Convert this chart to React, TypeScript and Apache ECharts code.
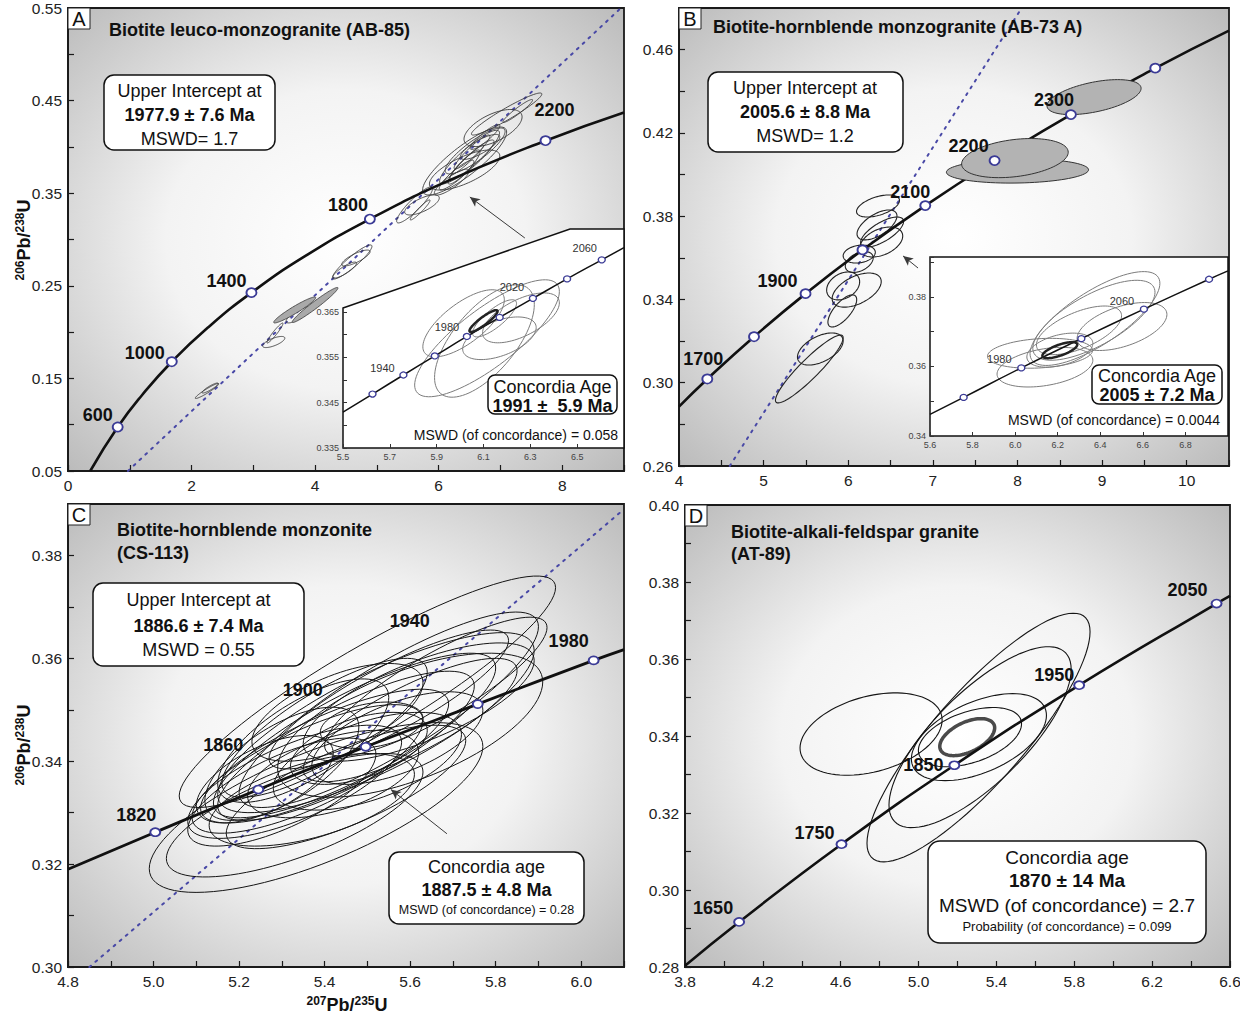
import React, { useEffect, useRef } from "react";
import * as echarts from "echarts";

const FONT = "'Liberation Sans', Arial, Helvetica, sans-serif";

// ---------------- Panel A : Biotite leuco-monzogranite (AB-85) ----------------
const aConcordia = [[0.36, 0.05], [0.805, 0.0975], [1.2, 0.1321], [1.68, 0.168], [2.26, 0.2046], [2.97, 0.2426], [3.83, 0.2817], [4.887, 0.3221], [6.169, 0.3638], [7.73, 0.4067], [9.0, 0.4372]];
const aAges = ["600", "1000", "1400", "1800", "2200"];
const aAgePoints = [[0.805, 0.0975], [1.68, 0.168], [2.97, 0.2426], [4.887, 0.3221], [7.73, 0.4067]];
const aDiscordia = [[0.97, 0.05], [8.95, 0.55]];
// ellipse = [x centre, y centre, x half-extent, y half-extent, correlation]
const aEllipses = [
  [7.1, 0.4355, 0.57, 0.0227, 0.95], [6.88, 0.4204, 0.47, 0.02, 0.6], [7.28, 0.4388, 0.24, 0.0124, 0.95],
  [6.42, 0.3848, 0.68, 0.0367, 0.85], [6.5, 0.389, 0.485, 0.029, 0.9], [6.59, 0.3956, 0.485, 0.0248, 0.85],
  [6.54, 0.3859, 0.356, 0.0216, 0.92], [6.54, 0.3945, 0.29, 0.0184, 0.93], [6.41, 0.3783, 0.26, 0.0184, 0.9],
  [6.29, 0.3697, 0.28, 0.016, 0.9], [6.42, 0.375, 0.57, 0.0216, 0.7], [6.67, 0.4, 0.32, 0.0135, 0.8],
  [6.21, 0.362, 0.28, 0.014, 0.85], [6.47, 0.386, 0.26, 0.016, 0.97], [6.75, 0.4107, 0.24, 0.0135, 0.9],
  [5.61, 0.3373, 0.29, 0.0194, 0.9], [5.73, 0.3373, 0.28, 0.0108, 0.7], [5.7, 0.3319, 0.16, 0.0108, 0.95],
  [4.6, 0.2757, 0.32, 0.0184, 0.92], [4.66, 0.28, 0.23, 0.0086, 0.8], [4.48, 0.267, 0.19, 0.0086, 0.85],
  [3.72, 0.2185, 0.19, 0.0086, 0.8], [3.35, 0.199, 0.13, 0.0108, 0.95], [3.33, 0.1893, 0.18, 0.006, 0.7],
  [2.25, 0.1364, 0.19, 0.0081, 0.95], [2.3, 0.1396, 0.13, 0.0054, 0.9],
];
const aGreyEllipses = [[3.67, 0.2239, 0.34, 0.014, 0.95], [4.0, 0.2293, 0.37, 0.0189, 0.97]];
const aArrow = [[7.395, 0.3016], [6.505, 0.3459]];

// inset of panel A
const aInsetConcordia = [[5.5, 0.3429], [5.626, 0.3469], [5.758, 0.3511], [5.892, 0.3553], [6.029, 0.3596], [6.169, 0.3638], [6.311, 0.368], [6.457, 0.3723], [6.605, 0.3765], [6.7, 0.3792]];
const aInsetAges = ["1920", "1940", "1960", "1980", "2000", "2020", "2040", "2060"];
const aInsetAgePoints = [[5.626, 0.3469], [5.758, 0.3511], [5.892, 0.3553], [6.029, 0.3596], [6.169, 0.3638], [6.311, 0.368], [6.457, 0.3723], [6.605, 0.3765]];
const aInsetEllipses = [
  [6.115, 0.3592, 0.309, 0.0129, 0.8], [6.104, 0.3586, 0.213, 0.0124, 0.65], [6.015, 0.3625, 0.174, 0.0074, 0.7],
  [6.168, 0.3592, 0.157, 0.0047, 0.5], [6.26, 0.3637, 0.164, 0.0055, 0.6], [6.147, 0.3636, 0.094, 0.0041, 0.8],
];
const aInsetBest = [[6.1, 0.363, 0.06, 0.0024, 0.9]];

// ---------------- Panel B : Biotite-hornblende monzogranite (AB-73 A) ----------------
const bConcordia = [[4.0, 0.2885], [4.335, 0.3018], [4.887, 0.3221], [5.496, 0.3428], [6.169, 0.3638], [6.911, 0.3851], [7.73, 0.4067], [8.632, 0.4288], [9.629, 0.4511], [10.5, 0.4691]];
const bAges = ["1700", "1800", "1900", "2000", "2100", "2200", "2300", "2400"];
const bAgePoints = [[4.335, 0.3018], [4.887, 0.3221], [5.496, 0.3428], [6.169, 0.3638], [6.911, 0.3851], [7.73, 0.4067], [8.632, 0.4288], [9.629, 0.4511]];
const bDiscordia = [[4.6, 0.26], [8.05, 0.48]];
const bEllipses = [
  [6.352, 0.3849, 0.254, 0.0053, 0.5], [6.34, 0.3758, 0.236, 0.0072, 0.6], [6.4, 0.3724, 0.254, 0.0072, 0.7],
  [6.39, 0.3676, 0.254, 0.0072, 0.4], [6.13, 0.3618, 0.19, 0.0043, 0.2], [6.13, 0.358, 0.165, 0.005, 0.4],
  [5.94, 0.3465, 0.195, 0.0067, 0.3], [6.1, 0.3445, 0.29, 0.0082, 0.5], [5.93, 0.3345, 0.17, 0.0077, 0.7],
  [5.67, 0.3162, 0.27, 0.0077, 0.5], [5.54, 0.3066, 0.4, 0.0163, 0.92],
];
const bGreyEllipses = [[8.0, 0.4017, 0.84, 0.0058, 0.1], [7.97, 0.4079, 0.63, 0.0094, 0.3], [8.905, 0.4372, 0.556, 0.0084, 0.5]];
const bArrow = [[6.825, 0.3551], [6.648, 0.3609]];

// inset of panel B
const bInsetConcordia = [[5.6, 0.3462], [5.758, 0.3511], [6.029, 0.3596], [6.311, 0.368], [6.605, 0.3765], [6.911, 0.3851], [7.0, 0.3875]];
const bInsetAges = ["1940", "1980", "2020", "2060", "2100"];
const bInsetAgePoints = [[5.758, 0.3511], [6.029, 0.3596], [6.311, 0.368], [6.605, 0.3765], [6.911, 0.3851]];
const bInsetEllipses = [
  [6.375, 0.3738, 0.305, 0.0135, 0.75], [6.37, 0.3733, 0.287, 0.0115, 0.7], [6.502, 0.3715, 0.211, 0.0069, 0.5],
  [6.117, 0.3638, 0.247, 0.0043, 0.2], [6.14, 0.3598, 0.225, 0.0057, 0.35], [6.21, 0.3647, 0.155, 0.0049, 0.4],
  [6.3, 0.3704, 0.2, 0.007, 0.6],
];
const bInsetBest = [[6.21, 0.3647, 0.082, 0.0023, 0.7]];

// ---------------- Panel C : Biotite-hornblende monzonite (CS-113) ----------------
const cConcordia = [[4.8, 0.319], [5.004, 0.3262], [5.245, 0.3345], [5.496, 0.3428], [5.758, 0.3511], [6.029, 0.3596], [6.1, 0.3617]];
const cAges = ["1820", "1860", "1900", "1940", "1980"];
const cAgePoints = [[5.004, 0.3262], [5.245, 0.3345], [5.496, 0.3428], [5.758, 0.3511], [6.029, 0.3596]];
const cDiscordia = [[4.85, 0.3], [6.1, 0.389]];
const cEllipses = [
  [5.38, 0.331, 0.39, 0.0165, 0.72], [5.5, 0.3535, 0.44, 0.0225, 0.9], [5.55, 0.35, 0.35, 0.019, 0.85],
  [5.52, 0.3475, 0.37, 0.0175, 0.8], [5.47, 0.345, 0.33, 0.016, 0.82], [5.45, 0.343, 0.3, 0.0145, 0.8],
  [5.4, 0.341, 0.29, 0.013, 0.78], [5.36, 0.3385, 0.27, 0.0125, 0.75], [5.33, 0.336, 0.25, 0.011, 0.7],
  [5.3, 0.334, 0.22, 0.0105, 0.7], [5.42, 0.3375, 0.2, 0.0085, 0.5], [5.51, 0.347, 0.12, 0.0045, 0.3],
  [5.6, 0.348, 0.25, 0.012, 0.8], [5.55, 0.352, 0.28, 0.0135, 0.85], [5.35, 0.344, 0.2, 0.012, 0.7],
  [5.3, 0.3395, 0.18, 0.011, 0.65], [5.6, 0.347, 0.31, 0.014, 0.6], [5.45, 0.335, 0.28, 0.012, 0.75],
  [5.4, 0.3465, 0.24, 0.0135, 0.8], [5.62, 0.3515, 0.27, 0.0115, 0.7], [5.26, 0.3365, 0.16, 0.0085, 0.6],
  [5.5, 0.34, 0.22, 0.0095, 0.55], [5.43, 0.3495, 0.2, 0.0095, 0.6], [5.37, 0.3325, 0.24, 0.009, 0.55],
  [5.66, 0.3545, 0.26, 0.0135, 0.85], [5.33, 0.3295, 0.3, 0.012, 0.7], [5.48, 0.3425, 0.16, 0.007, 0.5],
  [5.57, 0.3445, 0.2, 0.009, 0.6],
];
const cArrow = [[5.686, 0.3259], [5.555, 0.3345]];

// ---------------- Panel D : Biotite-alkali-feldspar granite (AT-89) ----------------
const dConcordia = [[3.8, 0.2803], [4.078, 0.2917], [4.604, 0.3119], [5.184, 0.3324], [5.825, 0.3532], [6.531, 0.3744], [6.6, 0.3764]];
const dAges = ["1650", "1750", "1850", "1950", "2050"];
const dAgePoints = [[4.078, 0.2917], [4.604, 0.3119], [5.184, 0.3324], [5.825, 0.3532], [6.531, 0.3744]];
const dEllipses = [
  [4.756, 0.3405, 0.365, 0.0107, 0.34], [5.308, 0.3396, 0.573, 0.0323, 0.85], [5.316, 0.3397, 0.468, 0.0235, 0.75],
  [5.31, 0.3397, 0.347, 0.0113, 0.5], [5.264, 0.3397, 0.265, 0.0077, 0.45],
];
const dBest = [[5.25, 0.3397, 0.141, 0.0048, 0.5]];

// ------------------------------------------------------------------------------------
function gradient() {
  return new echarts.graphic.RadialGradient(0.5, 0.5, 0.72, [
    { offset: 0, color: "#ffffff" },
    { offset: 0.45, color: "#f3f3f3" },
    { offset: 1, color: "#b9b9b9" },
  ]);
}

function mainAxis(gridIndex: number, min: number, max: number, interval: number, dec: number, showMax: boolean) {
  return {
    type: "value", gridIndex, min, max, interval,
    axisLine: { show: true, onZero: false, lineStyle: { color: "#1a1a1a", width: 1.8 } },
    axisTick: { show: true, inside: true, length: 6, lineStyle: { color: "#1a1a1a", width: 1.2 } },
    minorTick: { show: true, splitNumber: 2, length: 6, lineStyle: { color: "#1a1a1a", width: 1.2 } },
    splitLine: { show: false },
    minorSplitLine: { show: false },
    axisLabel: {
      show: true, fontSize: 15.5, color: "#222", fontFamily: FONT, margin: 6,
      showMaxLabel: showMax, showMinLabel: true,
      formatter: (v: number) => v.toFixed(dec),
    },
  };
}

function insetAxis(gridIndex: number, min: number, max: number, interval: number, dec: number, extra: any) {
  return {
    type: "value", gridIndex, min, max, interval, z: 11,
    axisLine: { show: false, onZero: false },
    axisTick: { show: true, inside: true, length: 4, lineStyle: { color: "#333", width: 1 } },
    minorTick: { show: false },
    splitLine: { show: false },
    axisLabel: {
      show: true, fontSize: 9, color: "#444", fontFamily: FONT, margin: 4, showMaxLabel: false,
      formatter: (v: number) => v.toFixed(dec),
    },
    ...extra,
  };
}

function ellipseSeries(idx: number, data: number[][], style: any, z: number) {
  return {
    type: "custom", xAxisIndex: idx, yAxisIndex: idx, coordinateSystem: "cartesian2d",
    data, encode: { x: 0, y: 1 }, z, silent: true, clip: true,
    renderItem: (_p: any, api: any) => {
      const cx = api.value(0), cy = api.value(1), hx = api.value(2), hy = api.value(3), r = api.value(4);
      const s = Math.sqrt(Math.max(0, 1 - r * r));
      const pts: number[][] = [];
      const n = 90;
      for (let i = 0; i < n; i++) {
        const t = (i / n) * Math.PI * 2;
        pts.push(api.coord([cx + hx * Math.cos(t), cy + hy * (r * Math.cos(t) + s * Math.sin(t))]));
      }
      return { type: "polygon", shape: { points: pts }, style: { ...style } };
    },
  };
}

function concordiaSeries(idx: number, pts: number[][], width: number, arrow: number[][] | null) {
  const s: any = {
    type: "line", xAxisIndex: idx, yAxisIndex: idx, data: pts, smooth: 0.5,
    showSymbol: false, symbol: "none", z: 4, silent: true,
    lineStyle: { color: "#111", width },
  };
  if (arrow) {
    s.markLine = {
      silent: true, symbol: ["none", "arrow"], symbolSize: [7, 10], animation: false,
      lineStyle: { color: "#3a3a3a", width: 1, type: "solid" }, label: { show: false },
      data: [[{ coord: arrow[0] }, { coord: arrow[1] }]],
    };
  }
  return s;
}

function discordiaSeries(idx: number, pts: number[][]) {
  return {
    type: "line", xAxisIndex: idx, yAxisIndex: idx, data: pts, showSymbol: false, symbol: "none", z: 2, silent: true,
    lineStyle: { color: "#4848a6", width: 2, type: [2, 6], cap: "round" },
  };
}

function markerSeries(idx: number, ages: string[], pts: number[][], offsets: (number[] | null)[], size: number[], labelStyle: any) {
  return {
    type: "scatter", xAxisIndex: idx, yAxisIndex: idx, z: 6, silent: true,
    symbol: "circle", symbolSize: size,
    itemStyle: { color: "#ffffff", borderColor: "#3b3b96", borderWidth: size[0] > 8 ? 1.8 : 1.3, opacity: 1 },
    data: pts.map((p, i) => ({
      name: ages[i], value: p,
      label: offsets[i] ? { show: true, offset: offsets[i] } : { show: false },
    })),
    label: { show: true, position: "inside", formatter: "{b}", fontFamily: FONT, ...labelStyle },
  };
}

function txt(text: string, x: number, y: number, size: number, bold: boolean, align = "center", z = 21) {
  return {
    type: "text", z, silent: true,
    style: {
      text, x, y, fill: "#111",
      font: `${bold ? "bold " : ""}${size}px ${FONT}`,
      align, verticalAlign: "middle", textAlign: align, textVerticalAlign: "middle",
    },
  };
}

function box(x: number, y: number, w: number, h: number, r: number, z = 20) {
  return { type: "rect", z, silent: true, shape: { x, y, width: w, height: h, r }, style: { fill: "#fff", stroke: "#111", lineWidth: 1.5 } };
}

function letter(l: string, x: number, y: number) {
  return [
    { type: "rect", z: 20, silent: true, shape: { x, y, width: 22, height: 21 }, style: { fill: "#fff", stroke: "#222", lineWidth: 1 } },
    txt(l, x + 11, y + 11, 20, false),
  ];
}

function ratioTitle(top: string, bottom: string, x: number, y: number, rotate: boolean) {
  return {
    type: "text", z: 21, silent: true, x, y, rotation: rotate ? Math.PI / 2 : 0,
    style: {
      text: `{s|${top}}{b|Pb/}{s|${bottom}}{b|U}`,
      x: 0, y: 0, align: "center", verticalAlign: "middle", textAlign: "center", textVerticalAlign: "middle", fill: "#111",
      rich: {
        b: { fontSize: 18, fontWeight: "bold", fontFamily: FONT, fill: "#111", color: "#111" },
        s: { fontSize: 12, fontWeight: "bold", fontFamily: FONT, fill: "#111", color: "#111", padding: [0, 0, 9, 0] },
      },
    },
  };
}

function buildOption() {
  const mainGrid = (left: number, top: number, width: number, height: number) => ({
    left, top, width, height, show: true, backgroundColor: gradient(), borderColor: "#1a1a1a", borderWidth: 1.8,
    containLabel: false, outerBoundsMode: "none",
  });
  const bigLabel = { fontSize: 18, fontWeight: "bold", color: "#111" };
  const smallLabel = { fontSize: 11, fontWeight: "normal", color: "#333" };
  const insetStroke = { fill: "none", stroke: "#7c7c7c", lineWidth: 1 };
  const insetBestStroke = { fill: "none", stroke: "#222", lineWidth: 2.5 };

  return {
    animation: false,
    backgroundColor: "#ffffff",
    grid: [
      mainGrid(68, 8, 556, 463),
      mainGrid(679, 8, 550, 458),
      mainGrid(68, 504, 556, 463),
      mainGrid(685, 505, 545, 462),
      { left: 343, top: 229, width: 281, height: 219, show: false, outerBoundsMode: "none" },
      { left: 930, top: 257, width: 298, height: 179, show: false, outerBoundsMode: "none" },
    ],
    xAxis: [
      mainAxis(0, 0, 9, 2, 0, false),
      mainAxis(1, 4, 10.5, 1, 0, false),
      mainAxis(2, 4.8, 6.1, 0.2, 1, false),
      mainAxis(3, 3.8, 6.6, 0.4, 1, true),
      insetAxis(4, 5.5, 6.7, 0.2, 1, {}),
      insetAxis(5, 5.6, 7.0, 0.2, 1, {}),
    ],
    yAxis: [
      mainAxis(0, 0.05, 0.55, 0.1, 2, true),
      mainAxis(1, 0.26, 0.48, 0.04, 2, false),
      mainAxis(2, 0.3, 0.39, 0.02, 2, false),
      mainAxis(3, 0.28, 0.4, 0.02, 2, true),
      insetAxis(4, 0.335, 0.3833, 0.01, 3, {
        axisTick: { show: true, inside: true, length: 4, lineStyle: { color: "#333", width: 1 }, customValues: [0.335, 0.34, 0.345, 0.35, 0.355, 0.36, 0.365] },
        axisLabel: {
          show: true, fontSize: 9, color: "#444", fontFamily: FONT, margin: 4, showMaxLabel: true, showMinLabel: true,
          customValues: [0.335, 0.345, 0.355, 0.365],
          formatter: (v: number) => (v > 0.37 ? "" : v.toFixed(3)),
        },
      }),
      insetAxis(5, 0.34, 0.3915, 0.02, 2, {
        minorTick: { show: true, splitNumber: 2, length: 4, lineStyle: { color: "#333", width: 1 } },
      }),
    ],
    series: [
      // A
      discordiaSeries(0, aDiscordia),
      ellipseSeries(0, aEllipses, { fill: "none", stroke: "#3a3a3a", lineWidth: 0.9 }, 3),
      ellipseSeries(0, aGreyEllipses, { fill: "#a9a9a9", stroke: "#444", lineWidth: 0.9 }, 3),
      concordiaSeries(0, aConcordia, 2.6, aArrow),
      markerSeries(0, aAges, aAgePoints, [[-20, -12], [-27, -9], [-25, -12], [-22, -14], [9, -31]], [10, 9], bigLabel),
      // B
      discordiaSeries(1, bDiscordia),
      ellipseSeries(1, bEllipses, { fill: "none", stroke: "#222", lineWidth: 1.1 }, 3),
      ellipseSeries(1, bGreyEllipses, { fill: "#b3b3b3", stroke: "#333", lineWidth: 1 }, 5),
      concordiaSeries(1, bConcordia, 2.6, bArrow),
      markerSeries(1, bAges, bAgePoints, [[-4, -20], null, [-28, -13], null, [-15, -14], [-26, -15], [-17, -15], null], [10, 9], bigLabel),
      // C
      discordiaSeries(2, cDiscordia),
      ellipseSeries(2, cEllipses, { fill: "none", stroke: "#151515", lineWidth: 1 }, 3),
      concordiaSeries(2, cConcordia, 2.8, cArrow),
      markerSeries(2, cAges, cAgePoints, [[-19, -17], [-35, -45], [-63, -57], [-68, -83], [-25, -19]], [10, 8], bigLabel),
      // D
      ellipseSeries(3, dEllipses, { fill: "none", stroke: "#151515", lineWidth: 1.1 }, 3),
      ellipseSeries(3, dBest, { fill: "none", stroke: "#4a4a4a", lineWidth: 3.5 }, 3),
      concordiaSeries(3, dConcordia, 2.6, null),
      markerSeries(3, dAges, dAgePoints, [[-26, -14], [-27, -11], [-31, 0], [-25, -10], [-29, -14]], [10, 8], bigLabel),
      // A inset
      { ...concordiaSeries(4, aInsetConcordia, 1.5, null), z: 12 },
      { ...ellipseSeries(4, aInsetEllipses, insetStroke, 12) },
      { ...ellipseSeries(4, aInsetBest, insetBestStroke, 13) },
      { ...markerSeries(4, aInsetAges, aInsetAgePoints, [null, [-21, -7], null, [-20, -9], null, [-21, -11], null, [-17, -12]], [7, 6], smallLabel), z: 14 },
      // B inset
      { ...concordiaSeries(5, bInsetConcordia, 1.5, null), z: 12 },
      { ...ellipseSeries(5, bInsetEllipses, insetStroke, 12) },
      { ...ellipseSeries(5, bInsetBest, insetBestStroke, 13) },
      { ...markerSeries(5, bInsetAges, bInsetAgePoints, [null, [-22, -9], null, [-22, -8], null], [7, 6], smallLabel), z: 14 },
    ],
    graphic: [
      // inset frames
      { type: "polygon", z: 10, silent: true, shape: { points: [[343, 308], [570, 229], [624, 229], [624, 448], [343, 448]] }, style: { fill: "#fff", stroke: "#111", lineWidth: 1.5 } },
      { type: "rect", z: 10, silent: true, shape: { x: 930, y: 257, width: 298, height: 179 }, style: { fill: "#fff", stroke: "#111", lineWidth: 1.5 } },
      // panel letters
      ...letter("A", 68, 8), ...letter("B", 679, 8), ...letter("C", 68, 504), ...letter("D", 685, 505),
      // titles
      txt("Biotite leuco-monzogranite (AB-85)", 109, 30, 18, true, "left"),
      txt("Biotite-hornblende monzogranite (AB-73 A)", 713, 27, 18, true, "left"),
      txt("Biotite-hornblende monzonite", 117, 530, 18, true, "left"),
      txt("(CS-113)", 117, 553, 18, true, "left"),
      txt("Biotite-alkali-feldspar granite", 731, 532, 18, true, "left"),
      txt("(AT-89)", 731, 554, 18, true, "left"),
      // A box
      box(104, 75, 171, 75, 10),
      txt("Upper Intercept at", 189.5, 91, 18, false),
      txt("1977.9 ± 7.6 Ma", 189.5, 115, 18, true),
      txt("MSWD= 1.7", 189.5, 139, 18, false),
      // B box
      box(708, 72, 195, 80, 10),
      txt("Upper Intercept at", 805, 88, 18, false),
      txt("2005.6 ± 8.8 Ma", 805, 112, 18, true),
      txt("MSWD= 1.2", 805, 136, 18, false),
      // C boxes
      box(93, 583, 211, 83, 10),
      txt("Upper Intercept at", 198.5, 600, 18, false),
      txt("1886.6 ± 7.4 Ma", 198.5, 626, 18, true),
      txt("MSWD = 0.55", 198.5, 650, 18, false),
      box(389, 852, 195, 72, 10),
      txt("Concordia age", 486.5, 867, 18, false),
      txt("1887.5 ± 4.8 Ma", 486.5, 890, 18, true),
      txt("MSWD (of concordance) = 0.28", 486.5, 910, 12.5, false),
      // D box
      box(928, 841, 278, 102, 12),
      txt("Concordia age", 1067, 857, 19, false),
      txt("1870 ± 14 Ma", 1067, 880, 19, true),
      txt("MSWD (of concordance) = 2.7", 1067, 905, 19, false),
      txt("Probability (of concordance) = 0.099", 1067, 926, 13, false),
      // A inset box
      box(488, 375, 129, 39, 7, 22),
      txt("Concordia Age", 552.5, 387, 18, false, "center", 23),
      txt("1991 ±  5.9 Ma", 552.5, 406, 18, true, "center", 23),
      txt("MSWD (of concordance) = 0.058", 618, 435, 14, false, "right", 23),
      // B inset box
      box(1092, 365, 130, 39, 7, 22),
      txt("Concordia Age", 1157, 376, 18, false, "center", 23),
      txt("2005 ± 7.2 Ma", 1157, 395, 18, true, "center", 23),
      txt("MSWD (of concordance) = 0.0044", 1220, 420, 14, false, "right", 23),
      // axis titles
      ratioTitle("206", "238", 24, 240, true),
      ratioTitle("206", "238", 24, 745, true),
      ratioTitle("207", "235", 347, 1005, false),
    ],
  };
}

export default function App() {
  const ref = useRef<HTMLDivElement>(null);
  useEffect(() => {
    const chart = echarts.init(ref.current as HTMLDivElement, null, { renderer: "svg" });
    chart.setOption(buildOption() as any);
    return () => chart.dispose();
  }, []);
  return (
    <div
      ref={ref}
      style={{ position: "absolute", left: 0, top: 0, width: 1240, height: 1019, background: "#fff" }}
    />
  );
}
